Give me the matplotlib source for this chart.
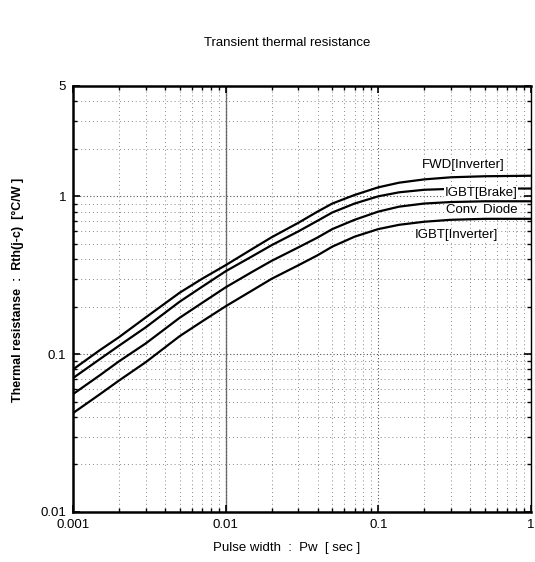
import matplotlib
matplotlib.use('Agg')
import matplotlib.pyplot as plt
from matplotlib.ticker import FixedLocator, NullFormatter, LogLocator

# Pulse width [sec]
pulse_width = [0.001, 0.0015, 0.002, 0.003, 0.005, 0.007, 0.01, 0.015, 0.02,
               0.03, 0.04, 0.05, 0.07, 0.1, 0.137, 0.2, 0.3, 0.5, 1.0]

# Rth(j-c) [C/W]
fwd_inverter = [0.080, 0.106, 0.128, 0.171, 0.245, 0.300, 0.366, 0.465, 0.55,
                0.68, 0.80, 0.90, 1.02, 1.14, 1.22, 1.28, 1.32, 1.34, 1.35]
igbt_brake = [0.0705, 0.093, 0.113, 0.148, 0.215, 0.267, 0.335, 0.418, 0.49,
              0.60, 0.70, 0.79, 0.90, 1.00, 1.06, 1.10, 1.115, 1.12, 1.12]
conv_diode = [0.0558, 0.0735, 0.090, 0.117, 0.17, 0.211, 0.265, 0.333, 0.39,
              0.475, 0.548, 0.62, 0.71, 0.80, 0.86, 0.90, 0.92, 0.93, 0.93]
igbt_inverter = [0.0423, 0.0557, 0.068, 0.089, 0.13, 0.161, 0.201, 0.254, 0.30,
                 0.366, 0.423, 0.48, 0.555, 0.62, 0.66, 0.69, 0.71, 0.72, 0.72]

series_labels = ['FWD[Inverter]', 'IGBT[Brake]', 'Conv. Diode', 'IGBT[Inverter]']
x_ticks = [0.001, 0.01, 0.1, 1]
x_ticklabels = ['0.001', '0.01', '0.1', '1']
y_ticks = [0.01, 0.1, 1, 5]
y_ticklabels = ['0.01', '0.1', '1', '5']

plt.rcParams['font.family'] = ['Liberation Sans', 'DejaVu Sans']

fig = plt.figure(figsize=(5.35, 5.62), dpi=100)
ax = fig.add_axes([0.1364, 0.089, 0.856, 0.758])

ax.set_xscale('log')
ax.set_yscale('log')
ax.set_xlim(0.001, 1)
ax.set_ylim(0.01, 5)

# grid
ax.grid(True, which='minor', linestyle=(0, (1, 3)), color='#888888', linewidth=0.7)
ax.grid(True, which='major', linestyle=(0, (1, 2)), color='#555555', linewidth=0.8)
ax.axvline(0.01, color='#777777', linewidth=1.0, zorder=1)

for ys in [fwd_inverter, igbt_brake, conv_diode, igbt_inverter]:
    ax.plot(pulse_width, ys, color='black', linewidth=1.6, zorder=3,
            solid_joinstyle='round')

# curve labels
label_pos = [(0.36, 1.59), (0.47, 1.045), (0.475, 0.815), (0.324, 0.566)]
for (lx, ly), txt in zip(label_pos, series_labels):
    ax.text(lx, ly, txt, fontsize=9.5, ha='center', va='center', zorder=4,
            bbox=dict(facecolor='white', edgecolor='none', pad=0.3))

ax.xaxis.set_major_locator(FixedLocator(x_ticks))
ax.set_xticklabels(x_ticklabels)
ax.xaxis.set_minor_locator(LogLocator(base=10, subs=range(2, 10)))
ax.xaxis.set_minor_formatter(NullFormatter())
ax.yaxis.set_major_locator(FixedLocator(y_ticks))
ax.set_yticklabels(y_ticklabels)
ax.yaxis.set_minor_locator(LogLocator(base=10, subs=range(2, 10)))
ax.yaxis.set_minor_formatter(NullFormatter())

ax.tick_params(which='both', direction='in', top=True, right=True, labelsize=9.5)
ax.tick_params(which='major', length=5, width=1.2, pad=5)
ax.tick_params(which='minor', length=3, width=1.0)

for side in ['left', 'bottom', 'top']:
    ax.spines[side].set_linewidth(1.8)
ax.spines['right'].set_linewidth(1.0)

fig.text(0.5364, 1 - 43 / 562, 'Transient thermal resistance', fontsize=9.5,
         ha='center', va='center')
fig.text(0.5364, 1 - 548 / 562, 'Pulse width  :  Pw  [ sec ]', fontsize=9.5,
         ha='center', va='center')
fig.text(18 / 535, 1 - 290 / 562, 'Thermal resistanse  :  Rth(j-c)  [\u00b0C/W ]',
         fontsize=9, fontweight='bold', rotation=90, ha='center', va='center')

fig.savefig('out.png', dpi=100)
